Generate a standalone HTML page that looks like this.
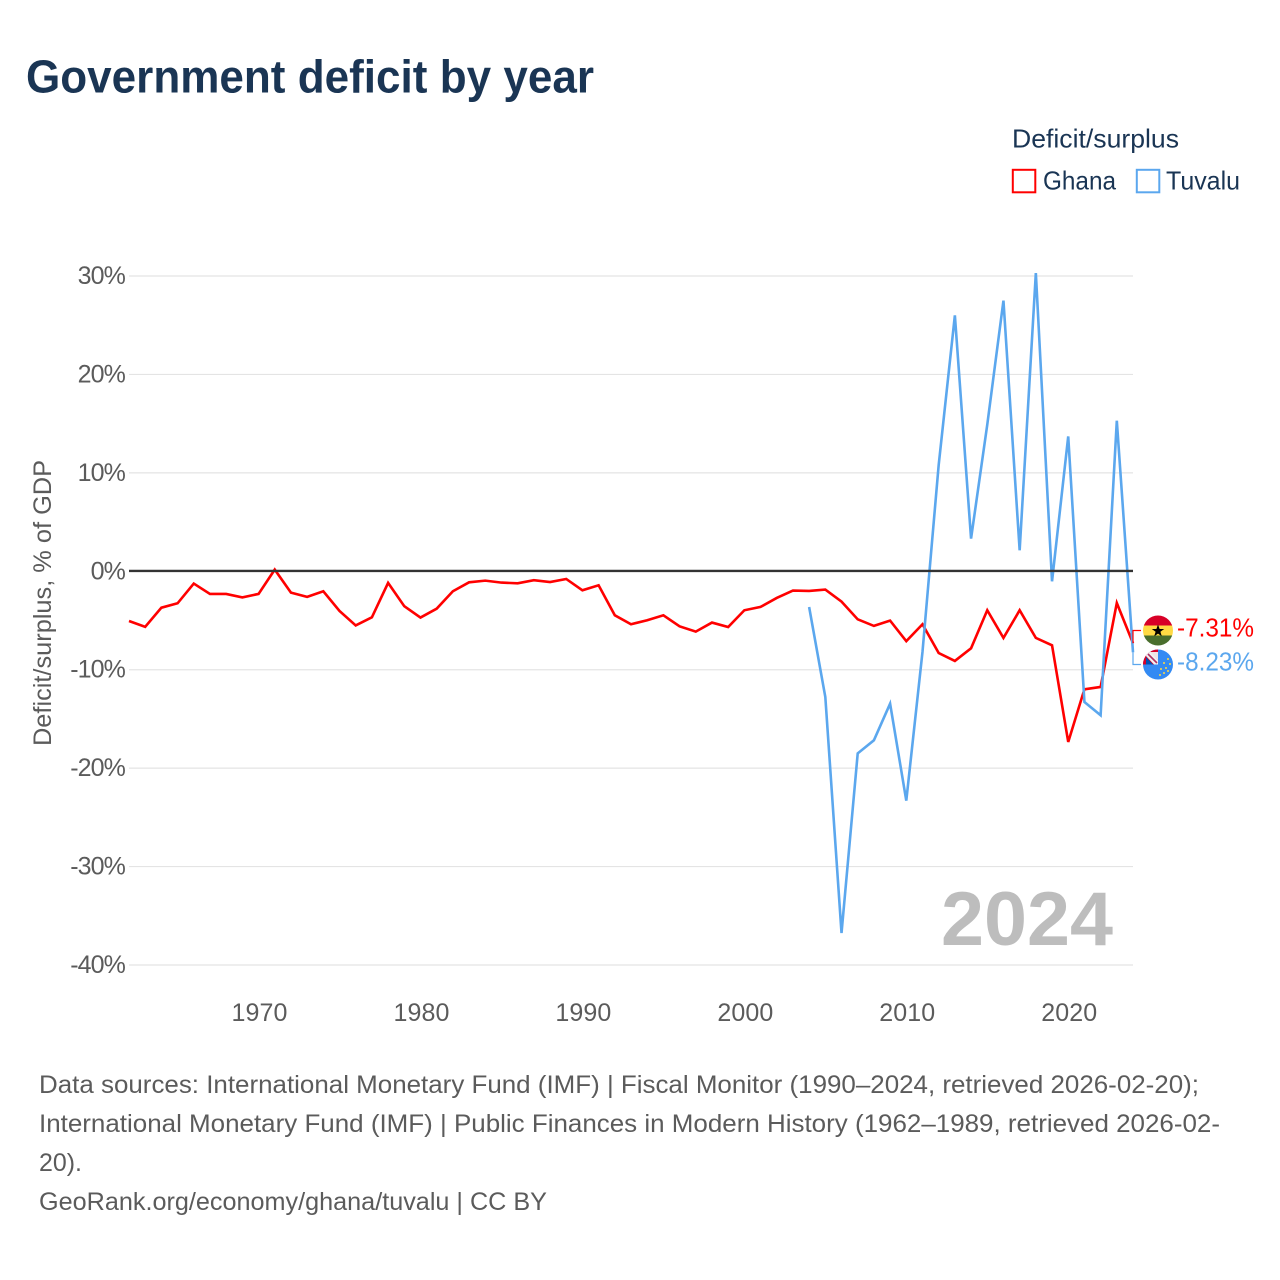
<!DOCTYPE html>
<html lang="en">
<head>
<meta charset="utf-8">
<title>Government deficit by year</title>
<style>
html,body{margin:0;padding:0;background:#fff;}
body{width:1280px;height:1280px;overflow:hidden;}
svg{display:block;font-family:"Liberation Sans",sans-serif;}
</style>
</head>
<body>
<svg id="chart" xmlns="http://www.w3.org/2000/svg" width="1280" height="1280" viewBox="0 0 1280 1280">
  <defs>
    <clipPath id="flag-clip-ghana"><circle cx="1158" cy="630.5" r="15"/></clipPath>
    <clipPath id="flag-clip-tuvalu"><circle cx="1158" cy="664.5" r="15"/></clipPath>
  </defs>
  <rect x="0" y="0" width="1280" height="1280" fill="#fff"/>
  <text x="26" y="92.5" font-size="46" font-weight="700" fill="#1a3554" textLength="568" lengthAdjust="spacingAndGlyphs">Government deficit by year</text>

  <g fill="#1a3554" font-size="26">
    <text x="1012" y="147.5" textLength="167" lengthAdjust="spacingAndGlyphs">Deficit/surplus</text>
    <g>
      <rect x="1012.8" y="169.8" width="22.5" height="22.5" fill="none" stroke="#ff0000" stroke-width="2"/>
      <text x="1043" y="189.5" textLength="73" lengthAdjust="spacingAndGlyphs">Ghana</text>
    </g>
    <g>
      <rect x="1136.8" y="169.8" width="22.5" height="22.5" fill="none" stroke="#5ba7ee" stroke-width="2"/>
      <text x="1166" y="189.5" textLength="74" lengthAdjust="spacingAndGlyphs">Tuvalu</text>
    </g>
  </g>

  <text transform="translate(51,603) rotate(-90)" text-anchor="middle" font-size="25" fill="#5b5b5b" textLength="286" lengthAdjust="spacingAndGlyphs">Deficit/surplus, % of GDP</text>

  <g id="grid"></g>
  <g id="y-ticks"></g>
  <g id="x-ticks"></g>

  <text x="941" y="945" font-size="76" font-weight="700" fill="#bdbdbd" textLength="172" lengthAdjust="spacingAndGlyphs">2024</text>

  <g id="series"></g>
  <g id="zero"></g>
  <g id="connectors"></g>

  <g clip-path="url(#flag-clip-ghana)">
    <rect x="1143" y="615.5" width="30" height="10" fill="#d80027"/>
    <rect x="1143" y="625.5" width="30" height="10" fill="#ffda44"/>
    <rect x="1143" y="635.5" width="30" height="10" fill="#496e2d"/>
    <polygon points="1158,624.5 1159.6,629 1164.2,629 1160.4,631.8 1161.8,636.3 1158,633.6 1154.2,636.3 1155.6,631.8 1151.8,629 1156.4,629" fill="#000"/>
  </g>
  <g clip-path="url(#flag-clip-tuvalu)">
    <rect x="1143" y="649.5" width="30" height="30" fill="#338af3"/>
    <rect x="1143" y="649.5" width="15" height="15" fill="#d80027"/>
    <polygon points="1146,652 1150,651 1158,660 1158,664.5 1154,664.5 1146,656" fill="#f0f0f0"/>
    <polygon points="1150,652 1158,652 1158,660" fill="#f0e4e4"/>
    <polygon points="1146,657 1146,664.5 1153,664.5" fill="#0052b4"/>
    <path d="M1148,654 L1157,663" stroke="#b03060" stroke-width="1.6"/>
    <g fill="#ffda44">
      <circle cx="1168" cy="659" r="1"/><circle cx="1164" cy="663" r="1"/><circle cx="1170" cy="664" r="1"/>
      <circle cx="1166" cy="668" r="1"/><circle cx="1161" cy="669" r="1"/><circle cx="1168" cy="671" r="1"/>
      <circle cx="1160" cy="675" r="1"/><circle cx="1164" cy="673" r="1"/>
    </g>
  </g>

  <g id="end-labels"></g>

  <g fill="#5b5b5b" font-size="25">
    <text x="39" y="1093" textLength="1160" lengthAdjust="spacingAndGlyphs">Data sources: International Monetary Fund (IMF) | Fiscal Monitor (1990–2024, retrieved 2026-02-20);</text>
    <text x="39" y="1132" textLength="1181" lengthAdjust="spacingAndGlyphs">International Monetary Fund (IMF) | Public Finances in Modern History (1962–1989, retrieved 2026-02-</text>
    <text x="39" y="1171" textLength="43" lengthAdjust="spacingAndGlyphs">20).</text>
    <text x="39" y="1210" textLength="508" lengthAdjust="spacingAndGlyphs">GeoRank.org/economy/ghana/tuvalu | CC BY</text>
  </g>
</svg>

<script>
const ghanaYears = [1962,1963,1964,1965,1966,1967,1968,1969,1970,1971,1972,1973,1974,1975,1976,1977,1978,1979,1980,1981,1982,1983,1984,1985,1986,1987,1988,1989,1990,1991,1992,1993,1994,1995,1996,1997,1998,1999,2000,2001,2002,2003,2004,2005,2006,2007,2008,2009,2010,2011,2012,2013,2014,2015,2016,2017,2018,2019,2020,2021,2022,2023,2024];
const ghanaValues = [-5.05,-5.65,-3.7,-3.25,-1.25,-2.3,-2.3,-2.65,-2.3,0.17,-2.17,-2.6,-2.03,-4.03,-5.5,-4.67,-1.18,-3.55,-4.7,-3.8,-2.03,-1.12,-0.95,-1.15,-1.22,-0.91,-1.09,-0.78,-1.93,-1.42,-4.47,-5.38,-4.98,-4.47,-5.59,-6.13,-5.21,-5.66,-3.96,-3.62,-2.71,-1.96,-2,-1.86,-3.08,-4.88,-5.55,-5.01,-7.1,-5.38,-8.3,-9.11,-7.82,-3.96,-6.77,-3.96,-6.77,-7.52,-17.34,-11.99,-11.75,-3.22,-7.31];
const tuvaluYears = [2004,2005,2006,2007,2008,2009,2010,2011,2012,2013,2014,2015,2016,2017,2018,2019,2020,2021,2022,2023,2024];
const tuvaluValues = [-3.63,-12.77,-36.75,-18.5,-17.17,-13.45,-23.3,-8.2,10.8,26.0,3.32,14.9,27.5,2.13,30.3,-1.02,13.7,-13.28,-14.63,15.3,-8.23];
const yTickValues = [30,20,10,0,-10,-20,-30,-40];
const yTickLabels = ["30%","20%","10%","0%","-10%","-20%","-30%","-40%"];
const xTickValues = [1970,1980,1990,2000,2010,2020];
const xTickLabels = ["1970","1980","1990","2000","2010","2020"];

const NS = "http://www.w3.org/2000/svg";
const plotLeft = 129, plotRight = 1133, plotTop = 276, plotBottom = 965;
const xMin = 1962, xMax = 2024, yMin = -40, yMax = 30;
const RED = "#ff0000", BLUE = "#5ba7ee", GREY = "#5b5b5b";

function xScale(year){ return plotLeft + (year - xMin) / (xMax - xMin) * (plotRight - plotLeft); }
function yScale(v){ return plotBottom - (v - yMin) / (yMax - yMin) * (plotBottom - plotTop); }
function make(parentId, tag, attrs, text){
  const el = document.createElementNS(NS, tag);
  for (const k in attrs) el.setAttribute(k, attrs[k]);
  if (text !== undefined) el.textContent = text;
  document.getElementById(parentId).appendChild(el);
  return el;
}
function linePoints(years, values){
  return years.map(function(y, i){ return xScale(y).toFixed(2) + "," + yScale(values[i]).toFixed(2); }).join(" ");
}

yTickValues.forEach(function(v, i){
  if (v !== 0) {
    const g = make("grid", "line", {x1: plotLeft, x2: plotRight, y1: yScale(v), y2: yScale(v), stroke: "#e4e4e4", "stroke-width": 1.2});
    
    
  }
  const t = make("y-ticks", "text", {x: 125, y: yScale(v) + 8, "text-anchor": "end", "font-size": 25, "letter-spacing": "-0.9", fill: GREY}, yTickLabels[i]);
  
  
});

xTickValues.forEach(function(v, i){
  const t = make("x-ticks", "text", {x: xScale(v) + 1, y: 1021, "text-anchor": "middle", "font-size": 25, "letter-spacing": "0.1", fill: GREY}, xTickLabels[i]);
  
  
});

const ghanaLine = make("series", "polyline", {points: linePoints(ghanaYears, ghanaValues), fill: "none", stroke: RED, "stroke-width": 2.6, "stroke-linejoin": "miter"});



const tuvaluLine = make("series", "polyline", {points: linePoints(tuvaluYears, tuvaluValues), fill: "none", stroke: BLUE, "stroke-width": 2.6, "stroke-linejoin": "miter"});



const zeroLine = make("zero", "line", {x1: plotLeft, x2: plotRight, y1: yScale(0) - 0.3, y2: yScale(0) - 0.3, stroke: "#333333", "stroke-width": 2.4});



const ghanaLast = ghanaValues[ghanaValues.length - 1];
const tuvaluLast = tuvaluValues[tuvaluValues.length - 1];

const ghanaConn = make("connectors", "polyline", {points: plotRight + "," + yScale(ghanaLast) + " " + plotRight + ",630.5 1141,630.5", fill: "none", stroke: RED, "stroke-width": 1.2});



const tuvaluConn = make("connectors", "polyline", {points: plotRight + "," + yScale(tuvaluLast) + " " + plotRight + ",664.5 1141,664.5", fill: "none", stroke: BLUE, "stroke-width": 1.2});



const ghanaLabel = make("end-labels", "text", {x: 1177, y: 636.5, "font-size": 25.5, fill: RED, textLength: 77, lengthAdjust: "spacingAndGlyphs"}, ghanaLast.toFixed(2) + "%");



const tuvaluLabel = make("end-labels", "text", {x: 1177, y: 670.5, "font-size": 25.5, fill: BLUE, textLength: 77, lengthAdjust: "spacingAndGlyphs"}, tuvaluLast.toFixed(2) + "%");


</script>
</body>
</html>
